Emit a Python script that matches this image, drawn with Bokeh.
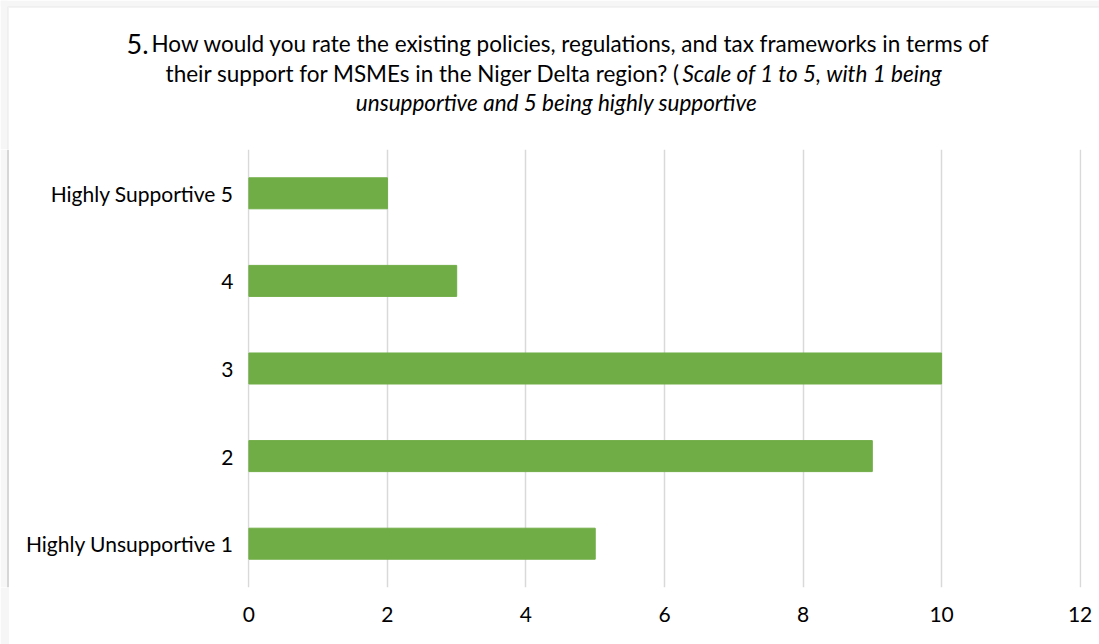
from bokeh.plotting import figure
from bokeh.models import FactorRange, Label, BoxAnnotation, Span, Range1d
from bokeh.layouts import column, row
from bokeh.embed import file_html
from bokeh.resources import INLINE

categories = ["Highly Unsupportive 1", "2", "3", "4", "Highly Supportive 5"]
counts = [5, 9, 10, 3, 2]
x_ticks = [0, 2, 4, 6, 8, 10, 12]

title_num = "5."
title_l1 = "How would you rate the existing policies, regulations, and tax frameworks in terms of"
title_l2a = "their support for MSMEs in the Niger Delta region? ("
title_l2b = "Scale of 1 to 5, with 1 being"
title_l3 = "unsupportive and 5 being highly supportive"

FONT = "Lato"
GREEN = "#70AD47"
GRID = "#d9d9d9"
BORDER = "#d6d6d6"
OUTSIDE = "#f6f6f6"

W, H = 1099, 644
TOP_H = 149
SIDE_W = 9

# ---- title strip (frame covers the whole strip; coordinates = pixels) ----
t = figure(width=W, height=TOP_H, output_backend="svg", toolbar_location=None,
           x_range=Range1d(0, W), y_range=Range1d(TOP_H, 0),
           x_axis_location=None, y_axis_location=None, min_border=0)
t.outline_line_color = None
t.grid.visible = False
t.add_layout(BoxAnnotation(left=0, right=7, top=0, bottom=TOP_H, fill_color=OUTSIDE,
                           fill_alpha=1, line_color=None))
t.add_layout(BoxAnnotation(left=0, right=W, top=0, bottom=6, fill_color=OUTSIDE,
                           fill_alpha=1, line_color=None))
t.add_layout(BoxAnnotation(left=7.5, right=W + 50, top=6.5, bottom=TOP_H + 50,
                           fill_alpha=0, line_color=BORDER, line_width=2))

common = dict(text_baseline="alphabetic", text_font=FONT, text_color="#000000")
for lb in [
    Label(x=148, y=43, text=title_num, text_align="right", text_font_size="27px", **common),
    Label(x=151, y=43, text=title_l1, text_align="left", text_font_size="22.5px", **common),
    Label(x=680, y=73, text=title_l2a, text_align="right", text_font_size="22.5px", **common),
    Label(x=682, y=73, text=title_l2b, text_align="left", text_font_size="22.5px",
          text_font_style="italic", **common),
    Label(x=556, y=102, text=title_l3, text_align="center", text_font_size="22.5px",
          text_font_style="italic", **common),
]:
    t.add_layout(lb)

# ---- left edge of the chart area ----
s = figure(width=SIDE_W, height=H - TOP_H, output_backend="svg", toolbar_location=None,
           x_range=Range1d(0, SIDE_W), y_range=Range1d(0, 1),
           x_axis_location=None, y_axis_location=None, min_border=0)
s.outline_line_color = None
s.grid.visible = False
s.border_fill_color = OUTSIDE
s.background_fill_color = "white"
s.add_layout(BoxAnnotation(left=0, right=7, fill_color=OUTSIDE, fill_alpha=1, line_color=None))
s.add_layout(Span(location=7.5, dimension="height", line_color=BORDER, line_width=2))

# ---- bar chart ----
p = figure(width=W - SIDE_W, height=H - TOP_H, output_backend="svg", toolbar_location=None,
           y_range=FactorRange(factors=categories, range_padding=0, factor_padding=0),
           x_range=(-0.02, 12.02))
p.min_border_left = 247 - SIDE_W
p.min_border_right = 18
p.min_border_top = 0
p.min_border_bottom = 57
p.outline_line_color = None
p.background_fill_color = "white"
p.border_fill_color = "white"

p.hbar(y=categories, right=counts, left=0, height=0.354, color=GREEN)

p.xaxis.ticker = x_ticks
p.xaxis.axis_line_color = None
p.xaxis.major_tick_line_color = None
p.xaxis.minor_tick_line_color = None
p.xaxis.major_label_standoff = 13
p.xaxis.major_label_text_font = FONT
p.xaxis.major_label_text_font_size = "21px"
p.xaxis.major_label_text_color = "#000000"

p.yaxis.axis_line_color = None
p.yaxis.major_tick_line_color = None
p.yaxis.minor_tick_line_color = None
p.yaxis.major_label_standoff = 8
p.yaxis.major_label_text_font = FONT
p.yaxis.major_label_text_font_size = "21px"
p.yaxis.major_label_text_color = "#000000"

p.xgrid.grid_line_color = GRID
p.xgrid.grid_line_width = 1.5
p.ygrid.grid_line_color = None

layout = column(t, row(s, p, spacing=0), spacing=0)
open("out.html", "w").write(file_html(layout, INLINE))
